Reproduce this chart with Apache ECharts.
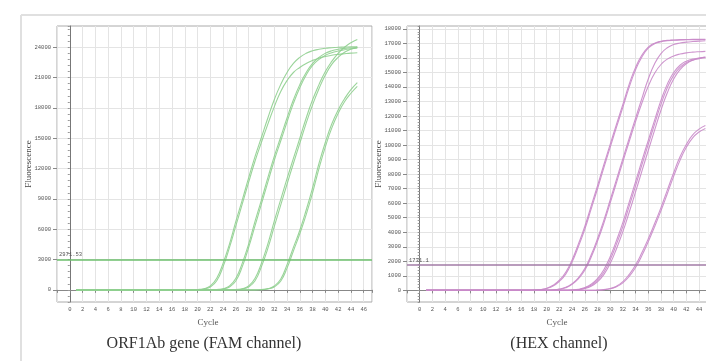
<!DOCTYPE html>
<html><head><meta charset="utf-8">
<script src="https://cdn.jsdelivr.net/npm/echarts@6/dist/echarts.min.js"></script>
<style>html,body{margin:0;padding:0;background:#fff}#c{width:706px;height:361px}</style>
</head><body><div id="c"></div><script>
const cycles = [1,2,3,4,5,6,7,8,9,10,11,12,13,14,15,16,17,18,19,20,21,22,23,24,25,26,27,28,29,30,31,32,33,34,35,36,37,38,39,40,41,42,43,44,45];

// FAM channel (ORF1Ab gene)
const famA1 = [0,0,0,0,0,0,0,0,0,0,0,0,0,0,0,0,0,0,0,30,120,400,1150,2650,4550,6800,8900,11100,13200,15100,17000,18800,20300,21500,22400,23000,23400,23650,23800,23900,23950,24000,24020,24040,24050];
const famA2 = [0,0,0,0,0,0,0,0,0,0,0,0,0,0,0,0,0,0,0,10,90,290,900,2300,4200,6350,8500,10650,12750,14600,16400,18100,19600,20700,21500,22000,22400,22700,22920,23080,23200,23290,23360,23420,23460];
const famB1 = [0,0,0,0,0,0,0,0,0,0,0,0,0,0,0,0,0,0,0,0,0,0,30,120,400,1150,2650,4550,6800,8900,11100,13200,15100,17000,18800,20300,21500,22400,23000,23400,23650,23800,23880,23930,23960];
const famB2 = [0,0,0,0,0,0,0,0,0,0,0,0,0,0,0,0,0,0,0,0,0,0,10,90,290,900,2300,4200,6350,8500,10650,12800,14700,16600,18450,20000,21250,22200,22800,23200,23450,23620,23750,23850,23930];
const famC1 = [0,0,0,0,0,0,0,0,0,0,0,0,0,0,0,0,0,0,0,0,0,0,0,0,0,30,120,400,1150,2650,4550,6800,8900,11000,13000,15000,17000,18800,20300,21600,22600,23400,24000,24450,24770];
const famC2 = [0,0,0,0,0,0,0,0,0,0,0,0,0,0,0,0,0,0,0,0,0,0,0,0,0,10,90,290,900,2300,4100,6250,8350,10450,12500,14500,16500,18300,19900,21250,22300,23000,23500,23800,24010];
const famD1 = [0,0,0,0,0,0,0,0,0,0,0,0,0,0,0,0,0,0,0,0,0,0,0,0,0,0,0,0,0,30,120,380,1050,2500,4200,5900,7900,10100,12500,14600,16400,17800,18900,19800,20500];
const famD2 = [0,0,0,0,0,0,0,0,0,0,0,0,0,0,0,0,0,0,0,0,0,0,0,0,0,0,0,0,0,10,90,290,850,2150,3850,5550,7450,9600,12000,14150,16000,17450,18600,19450,20130];
const famThreshold = 2971.53;
const famThresholdLabel = '2971.53';
const famYTicks = [0,3000,6000,9000,12000,15000,18000,21000,24000];

// HEX channel
const hexA1 = [0,0,0,0,0,0,0,0,0,0,0,0,0,0,0,0,0,20,60,150,350,700,1250,2100,3200,4400,5800,7200,8650,10050,11450,12800,14200,15350,16200,16750,17020,17150,17210,17240,17260,17270,17280,17280,17290];
const hexA2 = [0,0,0,0,0,0,0,0,0,0,0,0,0,0,0,0,0,15,50,130,300,630,1120,1950,3020,4200,5590,6980,8430,9840,11240,12600,13990,15180,16070,16670,16980,17120,17190,17220,17240,17250,17260,17260,17270];
const hexB1 = [0,0,0,0,0,0,0,0,0,0,0,0,0,0,0,0,0,0,0,0,30,90,210,460,870,1500,2430,3560,4820,6220,7640,9070,10470,11860,13220,14550,15600,16300,16700,16920,17030,17090,17130,17160,17180];
const hexB2 = [0,0,0,0,0,0,0,0,0,0,0,0,0,0,0,0,0,0,0,0,25,75,185,410,800,1380,2280,3380,4620,6010,7420,8850,10250,11620,12900,14050,14950,15550,15920,16140,16270,16350,16400,16430,16450];
const hexC1 = [0,0,0,0,0,0,0,0,0,0,0,0,0,0,0,0,0,0,0,0,0,0,0,28,78,190,420,810,1420,2320,3440,4680,6080,7490,8930,10330,11720,13080,14200,15000,15500,15780,15920,16000,16050];
const hexC2 = [0,0,0,0,0,0,0,0,0,0,0,0,0,0,0,0,0,0,0,0,0,0,0,20,60,150,350,700,1250,2100,3200,4400,5800,7200,8650,10050,11450,12800,13950,14800,15350,15680,15850,15950,16010];
const hexC3 = [0,0,0,0,0,0,0,0,0,0,0,0,0,0,0,0,0,0,0,0,0,0,0,0,48,123,290,595,1085,1845,2870,4040,5380,6780,8215,9630,11030,12400,13600,14550,15200,15600,15850,15980,16060];
const hexD1 = [0,0,0,0,0,0,0,0,0,0,0,0,0,0,0,0,0,0,0,0,0,0,0,0,0,0,0,20,55,130,290,600,1100,1750,2600,3550,4600,5700,6900,8100,9200,10050,10700,11100,11350];
const hexD2 = [0,0,0,0,0,0,0,0,0,0,0,0,0,0,0,0,0,0,0,0,0,0,0,0,0,0,0,15,45,110,250,520,960,1580,2400,3350,4380,5480,6650,7850,8950,9850,10500,10900,11150];
const hexThreshold = 1731.1;
const hexThresholdLabel = '1731.1';
const hexYTicks = [0,1000,2000,3000,4000,5000,6000,7000,8000,9000,10000,11000,12000,13000,14000,15000,16000,17000,18000];

const famCurves = [famA1, famA2, famB1, famB2, famC1, famC2, famD1, famD2];
const hexCurves = [hexA1, hexA2, hexB1, hexB2, hexC1, hexC2, hexC3, hexD1, hexD2];

const chart = echarts.init(document.getElementById('c'));
const lblFont = 'Liberation Mono';
const serif = 'Liberation Serif';

function xAxisCfg(gi){
  return {
    type:'value', gridIndex:gi, position:'bottom', min:-2, max:47.3, interval:2,
    axisLine:{lineStyle:{color:'#888',width:1}},
    axisTick:{length:3,lineStyle:{color:'#888'}},
    axisLabel:{fontSize:5.5, color:'#555', fontFamily:lblFont, margin:5,
      formatter:v=> (v>=0 && Math.abs(v%2)<1e-9) ? String(v) : ''},
    splitLine:{show:true,lineStyle:{color:'#e4e4e4',width:1}},
    name:'Cycle', nameLocation:'middle', nameGap:15,
    nameTextStyle:{fontFamily:serif,fontSize:9,color:'#555',padding:[0,13,0,0]}
  };
}
function yMinor(gi,min,max,step){
  return {type:'value',gridIndex:gi,position:'left',min:min,max:max,interval:step,
    axisLine:{show:true,lineStyle:{color:'#777',width:1}},
    axisTick:{show:true,length:2,lineStyle:{color:'#999'}},
    axisLabel:{show:false}, splitLine:{show:false},
    name:'Fluorescence', nameLocation:'middle', nameGap:24,
    nameTextStyle:{fontFamily:serif,fontSize:9,color:'#444'}};
}
function yMajor(gi,min,max,ticks){
  return {type:'value',gridIndex:gi,position:'left',offset:0,min:min,max:max,
    axisLine:{show:false},
    axisTick:{show:true,length:4,customValues:ticks,lineStyle:{color:'#888'}},
    axisLabel:{show:true,customValues:ticks,fontSize:5.5,color:'#555',fontFamily:lblFont,margin:6,
      formatter:v=>String(v)},
    splitLine:{show:true,lineStyle:{color:'#e4e4e4',width:1}}};
}

const series = [];
famCurves.forEach((arr,k)=>{
  series.push({type:'line',xAxisIndex:0,yAxisIndex:0,showSymbol:false,smooth:0.5,
    lineStyle:{color:'#8fcf8f',width:1.1,opacity:0.9},silent:true,z:3,
    data:cycles.map((c,i)=>[c,arr[i]]),
    markLine: k===0 ? {symbol:'none',silent:true,
      lineStyle:{color:'#6cbf6c',width:1.5,type:'solid'},
      label:{show:true,position:'insideStartTop',formatter:famThresholdLabel,fontSize:5.5,color:'#555',fontFamily:lblFont,distance:[2,2]},
      data:[{yAxis:famThreshold}]} : undefined});
});
hexCurves.forEach((arr,k)=>{
  series.push({type:'line',xAxisIndex:1,yAxisIndex:2,showSymbol:false,smooth:0.5,
    lineStyle:{color:'#c98ac9',width:1.1,opacity:0.9},silent:true,z:3,
    data:cycles.map((c,i)=>[c,arr[i]]),
    markLine: k===0 ? {symbol:'none',silent:true,
      lineStyle:{color:'#a27ba6',width:1.5,type:'solid'},
      label:{show:true,position:'insideStartTop',formatter:hexThresholdLabel,fontSize:5.5,color:'#555',fontFamily:lblFont,distance:[2,2]},
      data:[{yAxis:hexThreshold}]} : undefined});
});

chart.setOption({
  animation:false,
  backgroundColor:'#fff',
  grid:[
    {left:57,top:26,width:315,height:276,show:true,borderColor:'#aaa',borderWidth:1,backgroundColor:'transparent',outerBoundsMode:'none',containLabel:false},
    {left:407,top:26,width:313,height:276,show:true,borderColor:'#aaa',borderWidth:1,backgroundColor:'transparent',outerBoundsMode:'none',containLabel:false}
  ],
  xAxis:[xAxisCfg(0),xAxisCfg(1)],
  yAxis:[yMinor(0,-1200,26100,600), yMajor(0,-1200,26100,famYTicks),
         yMinor(1,-800,18200,200), yMajor(1,-800,18200,hexYTicks)],
  series:series,
  graphic:[
    {type:'line',shape:{x1:21,y1:15,x2:706,y2:15},style:{stroke:'#e0e0e0',lineWidth:2},silent:true},
    {type:'line',shape:{x1:21,y1:15,x2:21,y2:361},style:{stroke:'#e0e0e0',lineWidth:2},silent:true},
    {type:'text',x:204,y:344,style:{text:'ORF1Ab gene (FAM channel)',fontFamily:serif,fontSize:16,fill:'#333',textAlign:'center',textVerticalAlign:'middle'},silent:true},
    {type:'text',x:559,y:344,style:{text:'(HEX channel)',fontFamily:serif,fontSize:16,fill:'#333',textAlign:'center',textVerticalAlign:'middle'},silent:true}
  ]
});
</script></body></html>
